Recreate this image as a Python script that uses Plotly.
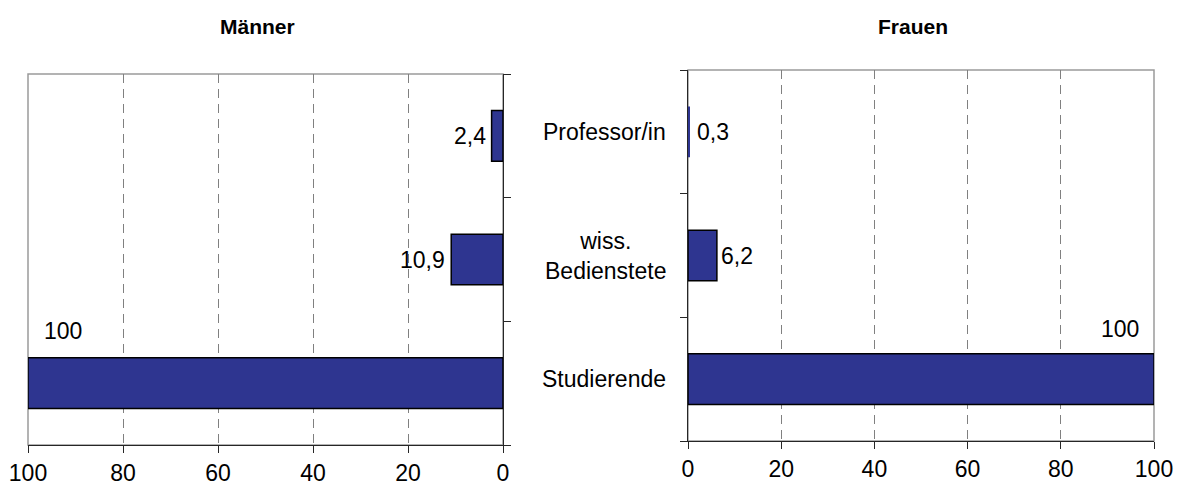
import plotly.graph_objects as go

# ---- data ----
categories = ["Professor/in", "wiss.<br>Bedienstete", "Studierende"]
men_values = [2.4, 10.9, 100]
women_values = [0.3, 6.2, 100]
men_labels = ["2,4", "10,9", "100"]
women_labels = ["0,3", "6,2", "100"]
x_ticks = [0, 20, 40, 60, 80, 100]
x_tick_text = ["0", "20", "40", "60", "80", "100"]
panel_titles = ["Männer", "Frauen"]

W, H = 1178, 488
FONT = "Liberation Sans, Arial, sans-serif"
BAR_COLOR = "#2E3590"
AXIS_COLOR = "#262626"
GRID_COLOR = "#808080"
BORDER_COLOR = "#9a9a9a"
LBL = 23


def px_x(p):
    return p / W


def px_y(p):
    return 1 - p / H


def outline_widths(vals):
    return [1.5 if v >= 1 else 0 for v in vals]


fig = go.Figure()

fig.add_trace(go.Bar(
    orientation="h", x=men_values, y=categories, xaxis="x", yaxis="y",
    marker=dict(color=BAR_COLOR, line=dict(color="#000000", width=outline_widths(men_values))),
    width=0.41, showlegend=False, hoverinfo="skip",
))
fig.add_trace(go.Bar(
    orientation="h", x=women_values, y=categories, xaxis="x2", yaxis="y2",
    marker=dict(color=BAR_COLOR, line=dict(color="#000000", width=outline_widths(women_values))),
    width=0.41, showlegend=False, hoverinfo="skip",
))

xcommon = dict(
    tickvals=x_ticks, ticktext=x_tick_text, ticks="outside", ticklen=7,
    tickcolor=AXIS_COLOR, tickwidth=1, showline=True, linecolor=AXIS_COLOR,
    linewidth=1, showgrid=True, gridcolor=GRID_COLOR, gridwidth=1,
    griddash="9px,6px", zeroline=False, fixedrange=True,
    tickfont=dict(family=FONT, size=LBL, color="#000000"),
)
ycommon = dict(
    type="category", categoryorder="array", categoryarray=categories[::-1],
    ticks="outside", ticklen=7,
    tickcolor=AXIS_COLOR, tickwidth=1, tickson="boundaries",
    showline=True, linecolor=AXIS_COLOR, linewidth=1, showgrid=False,
    zeroline=False, showticklabels=False, fixedrange=True,
)

fig.update_layout(
    autosize=False,
    width=W, height=H,
    margin=dict(l=0, r=0, t=0, b=0, autoexpand=False),
    paper_bgcolor="white", plot_bgcolor="white",
    font=dict(family=FONT, size=LBL, color="#000000"),
    xaxis=dict(domain=[px_x(28), px_x(503)], range=[100, 0], anchor="y", **xcommon),
    yaxis=dict(domain=[px_y(445), px_y(74)], anchor="x", side="right", **ycommon),
    xaxis2=dict(domain=[px_x(688), px_x(1154)], range=[0, 100], anchor="y2", **xcommon),
    yaxis2=dict(domain=[px_y(441), px_y(70)], anchor="x2", side="left", **ycommon),
)

# grey plot-area borders (top/left on men, top/right on women)
for xr, yr in (("x domain", "y domain"), ("x2 domain", "y2 domain")):
    fig.add_shape(type="rect", xref=xr, yref=yr, x0=0, x1=1, y0=0, y1=1,
                  line=dict(color=BORDER_COLOR, width=1.5), layer="below")

annotations = []
# panel titles
for xr, title in (("x domain", panel_titles[0]), ("x2 domain", panel_titles[1])):
    annotations.append(dict(
        xref=xr, yref="paper", x=0.5, y=px_y(27), text="<b>" + title + "</b>",
        showarrow=False, xanchor="center", yanchor="middle", xshift=-8,
        font=dict(family=FONT, size=21, color="#000000"),
    ))

# category labels for the right panel
for cat in categories:
    annotations.append(dict(
        xref="x2 domain", yref="y2", x=0, y=cat, text=cat, showarrow=False,
        xanchor="right", yanchor="middle", align="center", xshift=-20,
        font=dict(family=FONT, size=LBL, color="#000000"),
    ))

# value labels, men (reversed axis)
for cat, val, lab in zip(categories, men_values, men_labels):
    if val >= 50:
        annotations.append(dict(xref="x", yref="y", x=val, y=cat, text=lab,
                                showarrow=False, xanchor="left", yanchor="middle",
                                xshift=14, yshift=52,
                                font=dict(family=FONT, size=LBL, color="#000000")))
    else:
        annotations.append(dict(xref="x", yref="y", x=val, y=cat, text=lab,
                                showarrow=False, xanchor="right", yanchor="middle",
                                xshift=-4, yshift=0,
                                font=dict(family=FONT, size=LBL, color="#000000")))

# value labels, women
for cat, val, lab in zip(categories, women_values, women_labels):
    if val >= 50:
        annotations.append(dict(xref="x2", yref="y2", x=val, y=cat, text=lab,
                                showarrow=False, xanchor="right", yanchor="middle",
                                xshift=-13, yshift=50,
                                font=dict(family=FONT, size=LBL, color="#000000")))
    else:
        annotations.append(dict(xref="x2", yref="y2", x=val, y=cat, text=lab,
                                showarrow=False, xanchor="left", yanchor="middle",
                                xshift=6 if val < 1 else 2, yshift=0,
                                font=dict(family=FONT, size=LBL, color="#000000")))

fig.update_layout(annotations=annotations)

# remove the default page margin so the figure fills the window exactly
fig.write_html(
    "out.html",
    config={"displayModeBar": False, "responsive": False},
    post_script="document.body.style.margin='0';"
                "document.documentElement.style.overflow='hidden';",
)
